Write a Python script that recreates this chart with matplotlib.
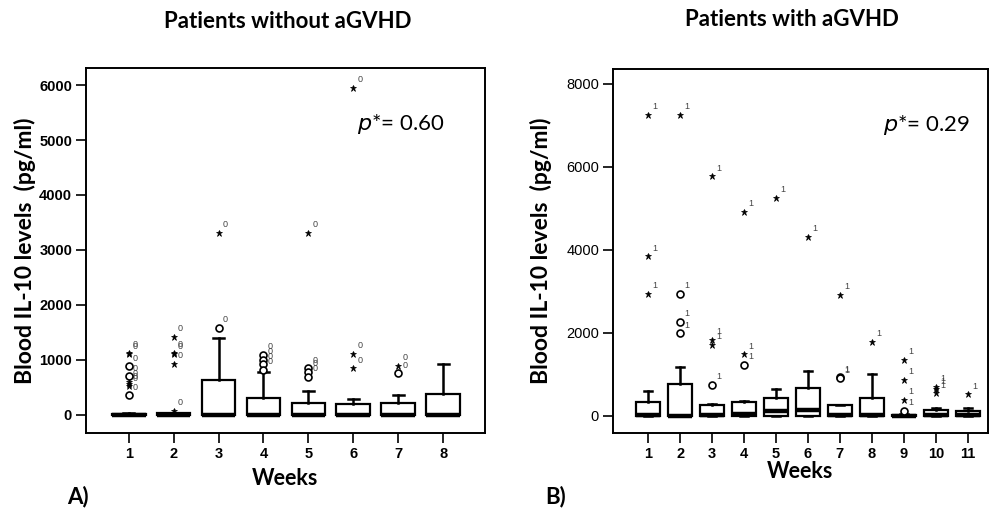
import matplotlib

matplotlib.use("Agg")
import matplotlib.pyplot as plt

# ---- panel A: patients without aGVHD (pg/ml) ----
weeks_a = [1, 2, 3, 4, 5, 6, 7, 8]
q1_a = [0, 0, 0, 0, 0, 0, 0, 0]
med_a = [0, 0, 0, 0, 0, 0, 0, 0]
q3_a = [20, 25, 640, 310, 220, 200, 220, 380]
whi_a = [35, 40, 1400, 780, 440, 290, 370, 930]
stars_a = [[1130, 1100, 600, 560, 520], [1420, 1130, 1100, 930, 70], [3310], [],
           [3310], [5950, 1110, 850], [890], []]
circles_a = [[880, 700, 360], [], [1580], [1090, 1000, 920, 820],
             [850, 780, 690], [], [760], []]

# ---- panel B: patients with aGVHD (pg/ml) ----
weeks_b = [1, 2, 3, 4, 5, 6, 7, 8, 9, 10, 11]
q1_b = [0, 0, 0, 0, 0, 0, 0, 0, 0, 0, 0]
med_b = [20, 10, 30, 40, 110, 140, 20, 30, 5, 20, 20]
q3_b = [345, 760, 265, 345, 425, 680, 265, 425, 30, 140, 120]
whi_b = [610, 1170, 280, 360, 640, 1080, 265, 1000, 40, 188, 190]
stars_b = [[7250, 3850, 2950], [7250], [5770, 1830, 1710], [4920, 1490], [5260],
           [4320], [2920], [1790], [1350, 870, 390], [710, 640, 545], [520]]
circles_b = [[], [2940, 2270, 1990], [750], [1230], [], [], [930, 910], [], [130], [], []]

FONT_TXT = ["Lato", "DejaVu Sans"]
FONT_NUM = ["Liberation Sans", "DejaVu Sans"]


def draw_panel(ax, weeks, q1, med, q3, whi, stars, circles, case_label, ylim, yticks, xlim,
               yweight):
    stats = []
    for i in range(len(weeks)):
        stats.append({"q1": q1[i], "med": med[i], "q3": q3[i],
                      "whislo": q1[i], "whishi": whi[i], "fliers": []})
    ax.bxp(stats, positions=weeks, widths=0.75, showfliers=False, patch_artist=True,
           capwidths=0.25,
           boxprops={"facecolor": "white", "edgecolor": "black", "linewidth": 1.6},
           medianprops={"color": "black", "linewidth": 3.2},
           whiskerprops={"color": "black", "linewidth": 1.8},
           capprops={"color": "black", "linewidth": 1.8})
    for i, w in enumerate(weeks):
        for v in stars[i]:
            ax.plot(w, v, marker="*", ms=5, color="black", mew=0.5, zorder=4)
            ax.annotate(case_label, (w, v), xytext=(3, 4), textcoords="offset points",
                        fontsize=6.5, color="#444444", family=FONT_NUM)
        for v in circles[i]:
            ax.plot(w, v, marker="o", ms=5, mfc="white", mec="black", mew=1.2, zorder=4)
            ax.annotate(case_label, (w, v), xytext=(3, 4), textcoords="offset points",
                        fontsize=6.5, color="#444444", family=FONT_NUM)
    ax.set_xlim(*xlim)
    ax.set_ylim(*ylim)
    ax.set_xticks(weeks)
    ax.set_xticklabels([str(w) for w in weeks], fontsize=10.5, fontweight="bold", family=FONT_NUM)
    ax.set_yticks(yticks)
    ax.set_yticklabels([str(t) for t in yticks], fontsize=10.5, fontweight=yweight,
                       family=FONT_NUM)
    ax.tick_params(axis="both", direction="out", length=7, width=1.2, pad=3)
    for s in ax.spines.values():
        s.set_linewidth(1.4)


fig = plt.figure(figsize=(9.93, 5.14), dpi=100)
fig.patch.set_facecolor("white")

ax_a = fig.add_axes([0.0866, 0.1576, 0.4018, 0.7101])
draw_panel(ax_a, weeks_a, q1_a, med_a, q3_a, whi_a, stars_a, circles_a, "0",
           (-330, 6310), [0, 1000, 2000, 3000, 4000, 5000, 6000], (0.05, 8.93), "bold")
ax_a.set_ylabel("Blood IL-10 levels  (pg/ml)", fontsize=16.5, fontweight="bold", family=FONT_TXT,
                labelpad=2)
ax_a.set_xlabel("Weeks", fontsize=15.5, fontweight="bold", family=FONT_TXT, labelpad=5)
ax_a.text(0.68, 0.83, r"$p$*= 0.60", transform=ax_a.transAxes, fontsize=16, family=FONT_TXT)

ax_b = fig.add_axes([0.6173, 0.1576, 0.3776, 0.7082])
draw_panel(ax_b, weeks_b, q1_b, med_b, q3_b, whi_b, stars_b, circles_b, "1",
           (-410, 8360), [0, 2000, 4000, 6000, 8000], (-0.1, 11.63), "normal")
ax_b.set_ylabel("Blood IL-10 levels  (pg/ml)", fontsize=16.5, fontweight="bold", family=FONT_TXT,
                labelpad=10)
ax_b.set_xlabel("Weeks", fontsize=15.5, fontweight="bold", family=FONT_TXT, labelpad=0)
ax_b.text(0.72, 0.83, r"$p$*= 0.29", transform=ax_b.transAxes, fontsize=16, family=FONT_TXT)

fig.text(288 / 993, 1 - 21 / 514, "Patients without aGVHD", ha="center", va="center",
         fontsize=16, fontweight="bold", family=FONT_TXT)
fig.text(792 / 993, 1 - 19 / 514, "Patients with aGVHD", ha="center", va="center",
         fontsize=16, fontweight="bold", family=FONT_TXT)
fig.text(78 / 993, 1 - 497 / 514, "A)", ha="center", va="center",
         fontsize=16, fontweight="bold", family=FONT_TXT)
fig.text(556 / 993, 1 - 497 / 514, "B)", ha="center", va="center",
         fontsize=16, fontweight="bold", family=FONT_TXT)

fig.savefig("out.png", dpi=100, facecolor="white")
